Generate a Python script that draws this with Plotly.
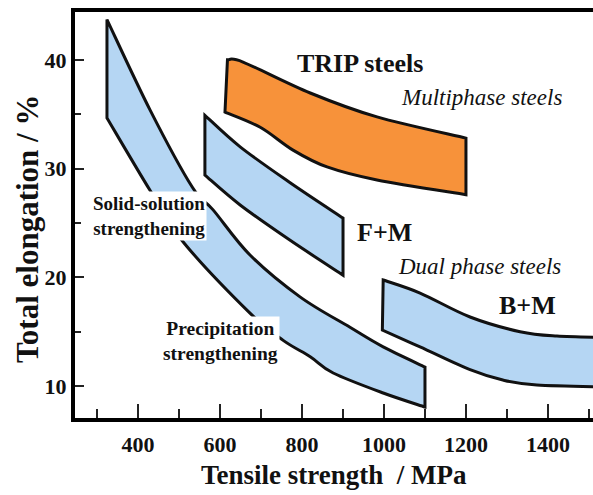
import plotly.graph_objects as go

# ---- data ----
# Band 1: solid-solution / precipitation strengthened steels
ss_upper_x = [324, 429, 532, 583, 673, 795, 917, 998, 1100]
ss_upper_y = [43.7, 35.4, 28.3, 26.2, 22.05, 18.2, 15.4, 13.6, 11.75]
ss_lower_x = [324, 429, 510, 673, 754, 820, 876, 998, 1100]
ss_lower_y = [34.65, 28.0, 23.25, 16.7, 14.2, 12.7, 11.2, 9.36, 8.07]

# Band 2: F+M dual phase
fm_upper_x = [563, 649, 771, 900]
fm_upper_y = [34.9, 32.0, 28.7, 25.45]
fm_lower_x = [563, 649, 771, 900]
fm_lower_y = [29.4, 26.65, 23.4, 20.2]

# Band 3: TRIP steels
trip_upper_x = [618, 656, 820, 983, 1200]
trip_upper_y = [40.0, 39.8, 36.95, 34.75, 32.8]
trip_lower_x = [612, 698, 778, 861, 983, 1200]
trip_lower_y = [35.2, 33.8, 31.7, 30.15, 28.95, 27.6]

# Band 4: B+M
bm_upper_x = [998, 1088, 1210, 1332, 1422, 1560]
bm_upper_y = [19.75, 18.55, 16.35, 15.0, 14.6, 14.45]
bm_lower_x = [996, 1088, 1210, 1290, 1373, 1560]
bm_lower_y = [15.15, 13.6, 11.5, 10.55, 10.1, 9.9]

x_major = [400, 600, 800, 1000, 1200, 1400]
x_minor = [300, 500, 700, 900, 1100, 1300, 1500]
y_major = [10, 20, 30, 40]
y_minor = [15, 25, 35]

BLUE = "#b5d6f3"
ORANGE = "#f7923a"
INK = "#111111"
FONT = "Liberation Serif"


def smooth_segments(xs, ys):
    """Catmull-Rom curve through the given points, as SVG cubic segments."""
    n = len(xs)
    segs = []
    for i in range(n - 1):
        i0, i2, i3 = max(i - 1, 0), i + 1, min(i + 2, n - 1)
        c1x = xs[i] + (xs[i2] - xs[i0]) / 6
        c1y = ys[i] + (ys[i2] - ys[i0]) / 6
        c2x = xs[i2] - (xs[i3] - xs[i]) / 6
        c2y = ys[i2] - (ys[i3] - ys[i]) / 6
        segs.append(f"C {c1x},{c1y} {c2x},{c2y} {xs[i2]},{ys[i2]}")
    return " ".join(segs)


def band_path(ux, uy, lx, ly):
    rx, ry = list(reversed(lx)), list(reversed(ly))
    return (f"M {ux[0]},{uy[0]} " + smooth_segments(ux, uy) +
            f" L {rx[0]},{ry[0]} " + smooth_segments(rx, ry) + " Z")


fig = go.Figure()
# invisible trace so the axes are bound to data
fig.add_trace(go.Scatter(x=[x_major[0]], y=[y_major[0]], mode="markers",
                         marker=dict(opacity=0), hoverinfo="skip", showlegend=False))

for ux, uy, lx, ly, col in [
    (ss_upper_x, ss_upper_y, ss_lower_x, ss_lower_y, BLUE),
    (fm_upper_x, fm_upper_y, fm_lower_x, fm_lower_y, BLUE),
    (trip_upper_x, trip_upper_y, trip_lower_x, trip_lower_y, ORANGE),
    (bm_upper_x, bm_upper_y, bm_lower_x, bm_lower_y, BLUE),
]:
    fig.add_shape(type="path", xref="x", yref="y", path=band_path(ux, uy, lx, ly),
                  fillcolor=col, line=dict(color=INK, width=3), layer="above")

bold = dict(family=FONT, color=INK, weight="bold")
italic = dict(family=FONT, color=INK, style="italic")

fig.update_xaxes(range=[246, 1510], showline=True, linecolor="black", linewidth=4,
                 mirror=True, showgrid=False, zeroline=False,
                 tickmode="array", tickvals=x_major, ticks="inside", ticklen=14,
                 tickwidth=2, tickcolor="#222222", ticklabelstandoff=4,
                 tickfont=dict(size=22, **bold),
                 minor=dict(tickmode="array", tickvals=x_minor, ticks="inside",
                            ticklen=9, tickwidth=2, tickcolor="#222222"))
fig.update_yaxes(range=[7.06, 44.4], showline=True, linecolor="black", linewidth=4,
                 mirror=False, showgrid=False, zeroline=False,
                 tickmode="array", tickvals=y_major, ticks="inside", ticklen=9,
                 tickwidth=2, tickcolor="#222222",
                 tickfont=dict(size=22, **bold),
                 minor=dict(tickmode="array", tickvals=y_minor, ticks="inside",
                            ticklen=6, tickwidth=2, tickcolor="#222222"))

anns = [
    dict(text="TRIP steels", x=941, y=39.7, font=dict(size=26, **bold)),
    dict(text="Multiphase steels", x=1237, y=36.5, font=dict(size=23, **italic)),
    dict(text="F+M", x=1002, y=24.1, font=dict(size=26, **bold)),
    dict(text="Dual phase steels", x=1234, y=20.95, font=dict(size=23, **italic)),
    dict(text="B+M", x=1349, y=17.45, font=dict(size=26, **bold)),
    dict(text="Solid-solution<br>strengthening", x=427, y=25.6,
         font=dict(size=19, **bold), bgcolor="white"),
    dict(text="Precipitation<br>strengthening", x=600, y=14.1,
         font=dict(size=19.5, **bold), bgcolor="white"),
]
for a in anns:
    fig.add_annotation(xref="x", yref="y", showarrow=False,
                       xanchor="center", yanchor="middle", **a)

fig.add_annotation(text="Tensile strength  / MPa", xref="paper", yref="paper",
                   x=0.500, y=-0.140, xanchor="center", yanchor="middle",
                   showarrow=False, font=dict(size=27, **bold))
fig.add_annotation(text="Total elongation / %", xref="paper", yref="paper",
                   x=-0.0927, y=0.4655, xanchor="center", yanchor="middle",
                   showarrow=False, textangle=-90, font=dict(size=31, **bold))

fig.update_layout(width=593, height=495, margin=dict(l=75, r=0, t=12, b=77),
                  plot_bgcolor="white", paper_bgcolor="white")

fig.write_html("out.html")
